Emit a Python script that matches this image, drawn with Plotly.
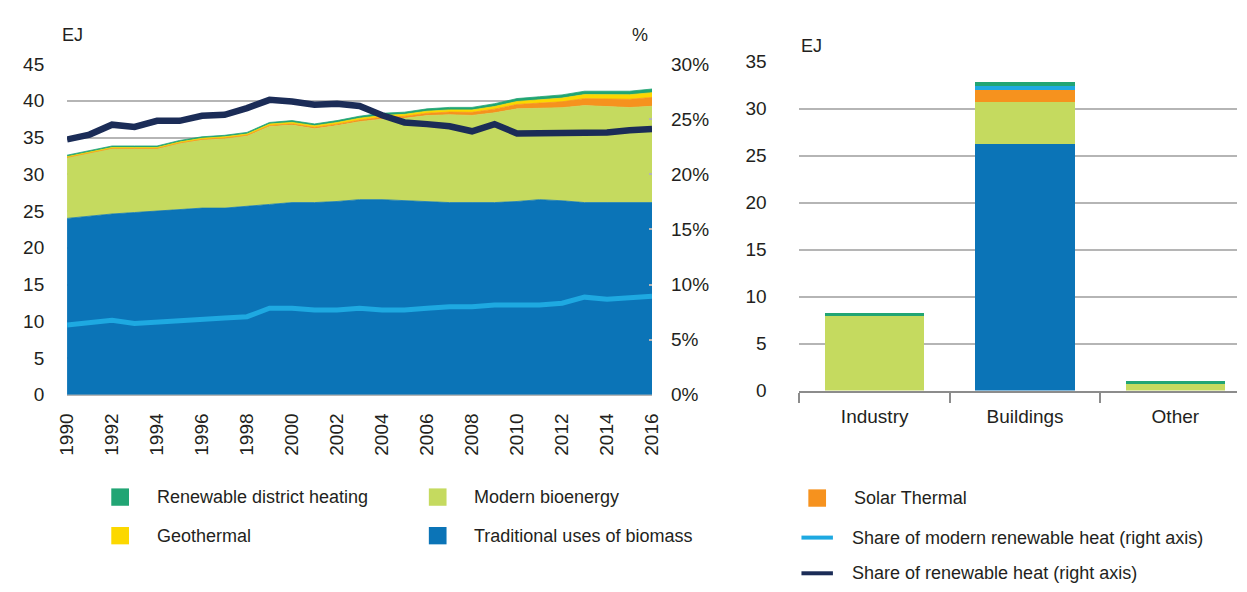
import plotly.graph_objects as go

# ---- Left panel: renewable heat by source, 1990-2016 (EJ) ----
years = list(range(1990, 2017))

traditional_biomass = [24.0, 24.35, 24.6, 24.8, 25.0, 25.2, 25.4, 25.4, 25.7, 25.9,
                       26.15, 26.15, 26.3, 26.55, 26.55, 26.4, 26.35, 26.15, 26.15, 26.15,
                       26.3, 26.55, 26.4, 26.15, 26.15, 26.15, 26.15]
modern_bioenergy = [8.25, 8.5, 8.88, 8.66, 8.45, 8.98, 9.26, 9.44, 9.5, 10.61,
                    10.55, 10.06, 10.32, 10.61, 10.95, 11.21, 11.63, 11.95, 11.86, 12.21,
                    12.6, 12.43, 12.66, 13.19, 13.05, 12.93, 13.1]
solar_thermal = [0.05, 0.05, 0.06, 0.07, 0.08, 0.09, 0.1, 0.11, 0.12, 0.14,
                 0.16, 0.18, 0.2, 0.22, 0.25, 0.28, 0.32, 0.36, 0.42, 0.5,
                 0.6, 0.7, 0.8, 0.95, 1.05, 1.12, 1.2]
geothermal = [0.1, 0.1, 0.11, 0.12, 0.12, 0.13, 0.14, 0.15, 0.16, 0.18,
              0.2, 0.21, 0.22, 0.24, 0.25, 0.26, 0.28, 0.3, 0.32, 0.36,
              0.4, 0.45, 0.5, 0.55, 0.58, 0.62, 0.65]
district_heating = [0.2, 0.2, 0.2, 0.2, 0.2, 0.2, 0.2, 0.2, 0.22, 0.22,
                    0.24, 0.25, 0.26, 0.28, 0.3, 0.3, 0.32, 0.34, 0.35, 0.38,
                    0.4, 0.42, 0.44, 0.46, 0.47, 0.48, 0.5]

# Shares of total heat demand (%), right axis
share_renewable = [23.16, 23.6, 24.5, 24.3, 24.85, 24.85, 25.3, 25.4, 26.0, 26.75,
                   26.6, 26.3, 26.4, 26.2, 25.35, 24.7, 24.55, 24.35, 23.9, 24.55,
                   23.7, 23.7, 23.7, 23.8, 23.8, 24.0, 24.1]
share_modern_renewable = [6.33, 6.53, 6.77, 6.47, 6.62, 6.74, 6.85, 6.97, 7.09, 7.85,
                          7.85, 7.7, 7.7, 7.85, 7.7, 7.7, 7.85, 7.99, 7.99, 8.14,
                          8.14, 8.14, 8.31, 8.86, 8.66, 8.81, 8.95]

# ---- Right panel: renewable heat by sector (EJ) ----
sectors = ["Industry", "Buildings", "Other"]
sector_traditional = [0, 26.2, 0]
sector_modern_bio = [7.95, 4.5, 0.7]
sector_solar = [0, 1.35, 0]
sector_other_renewable = [0, 0.35, 0]
sector_district_heating = [0.35, 0.5, 0.35]

left_ticks_ej = [0, 5, 10, 15, 20, 25, 30, 35, 40, 45]
right_ticks_pct = [0, 5, 10, 15, 20, 25, 30]
bar_ticks_ej = [0, 5, 10, 15, 20, 25, 30, 35]

C_TRAD = "#0b74b7"
C_BIO = "#c5da5f"
C_SOLAR = "#f6921e"
C_GEO = "#fcd800"
C_DH = "#21a574"
C_CYAN = "#1ea9e1"
C_NAVY = "#1b2c57"
C_GRID = "#b5b5b5"
C_AXIS = "#8c8c8c"
C_TEXT = "#231f20"

FONT = "Liberation Sans, Arial, sans-serif"
FS = 18
TICK_FS = 19
W, H = 1247, 592

fig = go.Figure()

for name, vals, col in [
    ("Traditional uses of biomass", traditional_biomass, C_TRAD),
    ("Modern bioenergy", modern_bioenergy, C_BIO),
    ("Solar Thermal", solar_thermal, C_SOLAR),
    ("Geothermal", geothermal, C_GEO),
    ("Renewable district heating", district_heating, C_DH),
]:
    fig.add_trace(go.Scatter(
        x=years, y=vals, name=name, stackgroup="heat", mode="lines",
        line=dict(width=0.8, color=col), fillcolor=col,
        xaxis="x", yaxis="y", showlegend=False,
    ))

fig.add_trace(go.Scatter(
    x=years, y=share_modern_renewable, mode="lines",
    name="Share of modern renewable heat (right axis)",
    line=dict(color=C_CYAN, width=5), xaxis="x", yaxis="y2", showlegend=False,
))
fig.add_trace(go.Scatter(
    x=years, y=share_renewable, mode="lines",
    name="Share of renewable heat (right axis)",
    line=dict(color=C_NAVY, width=6.5), xaxis="x", yaxis="y2", showlegend=False,
))

for name, vals, col in [
    ("Traditional uses of biomass", sector_traditional, C_TRAD),
    ("Modern bioenergy", sector_modern_bio, C_BIO),
    ("Solar Thermal", sector_solar, C_SOLAR),
    ("Other renewables", sector_other_renewable, C_CYAN),
    ("Renewable district heating", sector_district_heating, C_DH),
]:
    fig.add_trace(go.Bar(
        x=sectors, y=vals, name=name, marker=dict(color=col, line=dict(width=0)),
        width=0.66, xaxis="x2", yaxis="y3", showlegend=False,
    ))


def px_x(p):
    return p / W


def px_y(p):
    return (H - p) / H


left_dom_x = [px_x(57), px_x(652)]
left_dom_y = [px_y(399), px_y(56)]
right_dom_x = [px_x(802), 1.0]
right_dom_y = [px_y(394.5), px_y(53.7)]

tickfont = dict(family=FONT, size=TICK_FS, color=C_TEXT)

fig.update_layout(
    width=W, height=H,
    margin=dict(l=0, r=0, t=0, b=0),
    paper_bgcolor="white", plot_bgcolor="white",
    font=dict(family=FONT, size=FS, color=C_TEXT),
    barmode="stack",
    xaxis=dict(
        domain=left_dom_x, range=[1990, 2016], tickmode="array",
        tickvals=years[::2], ticktext=[str(y) for y in years[::2]],
        tickangle=-90, showgrid=False, zeroline=False, tickfont=tickfont,
        ticks="outside", ticklen=10, tickcolor="rgba(0,0,0,0)",
        showline=False,
    ),
    yaxis=dict(
        domain=left_dom_y, range=[0, 45], tickvals=left_ticks_ej, tickfont=tickfont,
        showgrid=True, gridcolor=C_GRID, gridwidth=2, zeroline=True,
        zerolinecolor=C_GRID, zerolinewidth=2,
        ticks="outside", ticklen=18, tickcolor="rgba(0,0,0,0)",
    ),
    yaxis2=dict(
        overlaying="y", side="right", anchor="x", range=[0, 30], tickfont=tickfont,
        tickvals=right_ticks_pct, ticktext=[f"{v}%" for v in right_ticks_pct],
        showgrid=False, zeroline=False,
        ticks="inside", ticklen=3, tickwidth=1.5, tickcolor=C_GRID,
        ticklabelstandoff=18,
    ),
    xaxis2=dict(
        domain=right_dom_x, anchor="y3", range=[-0.5, 2.41], type="category",
        tickson="boundaries", ticks="outside", ticklen=10, tickwidth=2,
        tickcolor=C_AXIS, showline=True, linecolor=C_AXIS, linewidth=2,
        showgrid=False, tickfont=tickfont, ticklabelstandoff=8,
    ),
    yaxis3=dict(
        domain=right_dom_y, anchor="x2", range=[0, 35], tickvals=bar_ticks_ej,
        showgrid=True, gridcolor=C_GRID, gridwidth=2, zeroline=False, tickfont=tickfont,
        ticks="outside", ticklen=28, tickcolor="rgba(0,0,0,0)",
    ),
)

annotations = [
    dict(x=px_x(50), y=px_y(26), text="EJ"),
    dict(x=px_x(630), y=px_y(26), text="%"),
    dict(x=px_x(802), y=px_y(37), text="EJ"),
]
shapes = []

legend_boxes = [
    (111, 505, C_DH, "Renewable district heating"),
    (111, 545, C_GEO, "Geothermal"),
    (434, 505, C_BIO, "Modern bioenergy"),
    (434, 545, C_TRAD, "Traditional uses of biomass"),
    (820, 506, C_SOLAR, "Solar Thermal"),
]
for cx, cy, col, label in legend_boxes:
    shapes.append(dict(type="rect", xref="paper", yref="paper",
                       x0=px_x(cx - 9), x1=px_x(cx + 9), y0=px_y(cy + 9), y1=px_y(cy - 9),
                       fillcolor=col, line=dict(width=0)))
    annotations.append(dict(x=px_x(cx + 35), y=px_y(cy), text=label))

legend_lines = [
    (547, C_CYAN, "Share of modern renewable heat (right axis)"),
    (584, C_NAVY, "Share of renewable heat (right axis)"),
]
for cy, col, label in legend_lines:
    shapes.append(dict(type="line", xref="paper", yref="paper",
                       x0=px_x(804), x1=px_x(836), y0=px_y(cy), y1=px_y(cy),
                       line=dict(color=col, width=4)))
    annotations.append(dict(x=px_x(853), y=px_y(cy), text=label))

for a in annotations:
    a.update(xref="paper", yref="paper", showarrow=False,
             xanchor="left", yanchor="middle",
             font=dict(family=FONT, size=FS, color=C_TEXT))

fig.update_layout(annotations=annotations, shapes=shapes)

fig.write_html("out.html")
